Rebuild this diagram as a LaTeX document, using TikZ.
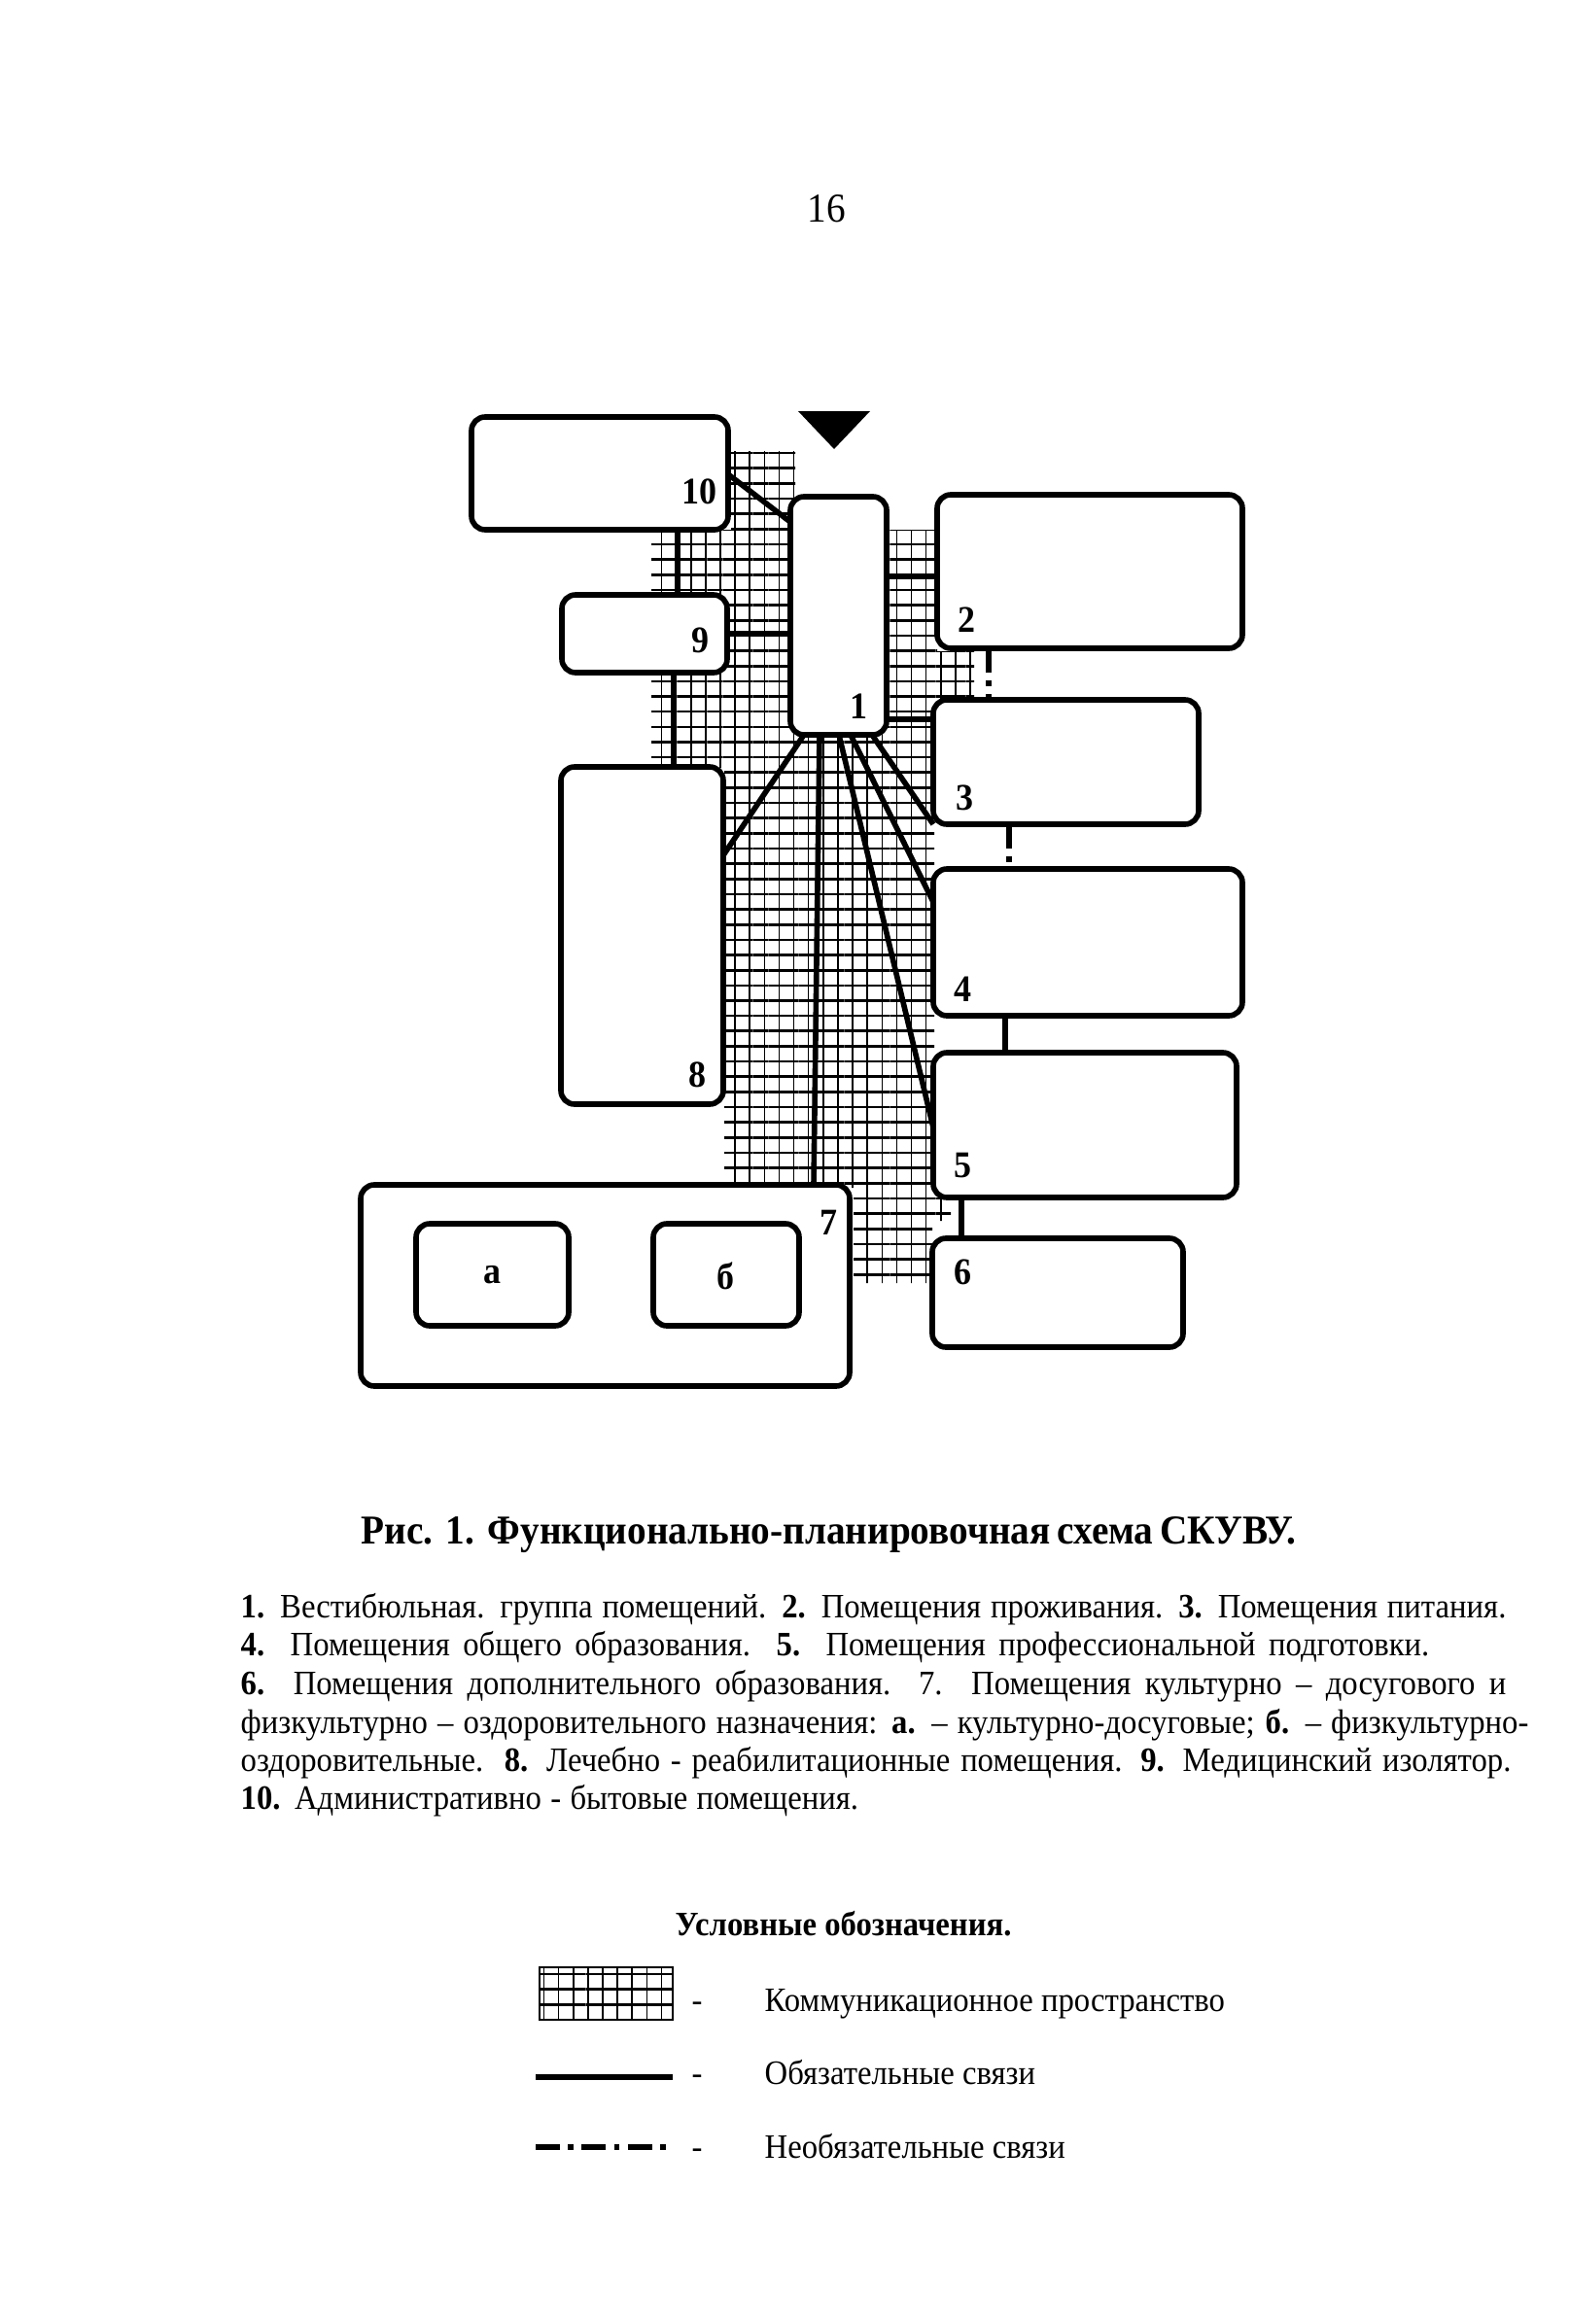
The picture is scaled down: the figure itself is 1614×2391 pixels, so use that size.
\documentclass[tikz,border=0pt]{standalone}
\usepackage{fontspec}
\setmainfont{Liberation Serif}[FakeStretch=0.93]
\usetikzlibrary{patterns.meta, calc, fit}

\begin{document}
\begin{tikzpicture}[x=0.01cm, y=-0.01cm,
    room/.style={draw, line width=1.6pt, rounded corners=4pt, fill=white, inner sep=0pt, outer sep=0pt},
    num/.style={font=\bfseries\fontsize{11}{11}\selectfont},
    link/.style={line width=1.6pt},
    optlink/.style={line width=1.7pt, dash pattern=on 7pt off 2.5pt on 1.5pt off 2.5pt},
    hall/.style={pattern={Lines[angle=0, distance=4.45pt, line width=0.75pt]},
        postaction={pattern={Lines[angle=90, distance=4.3pt, line width=0.45pt]}}},
    leg/.style={anchor=base west, inner sep=0pt, font=\fontsize{10}{12}\selectfont}]
    \useasboundingbox (0,0) rectangle (1614,2391);
    % Номер страницы
    \node[font=\fontsize{12}{12}\selectfont] (page) at (850,215) {16};
    % Коммуникационное пространство
    \path[hall] (752,464) -- (818,464) -- (818,545) -- (964,545) -- (964,670) -- (1002,670)
        -- (1002,720) -- (961,720) -- (961,1232) -- (978,1232) -- (978,1256) -- (959,1256)
        -- (959,1320) -- (878,1320) -- (878,1222) -- (745,1222) -- (745,790) -- (670,790)
        -- (670,545) -- (752,545) -- cycle;
    % Вход
    \fill (821,423) -- (895,423) -- (858,462) -- cycle;
    % Группы помещений
    \node[room, fit={(485,429) (749,545)}] (b10) {};
    \node[room, fit={(578,612) (748,692)}] (b9) {};
    \node[room, fit={(813,511) (912,756)}] (b1) {};
    \node[room, fit={(964,509) (1278,667)}] (b2) {};
    \node[room, fit={(960,720) (1233,848)}] (b3) {};
    \node[room, fit={(960,894) (1278,1045)}] (b4) {};
    \node[room, fit={(960,1083) (1272,1232)}] (b5) {};
    \node[room, fit={(959,1274) (1217,1386)}] (b6) {};
    \node[room, fit={(371,1219) (874,1426)}] (b7) {};
    \node[room, fit={(428,1259) (585,1364)}] (b7a) {};
    \node[room, fit={(672,1259) (822,1364)}] (b7b) {};
    \node[room, fit={(577,789) (744,1136)}] (b8) {};
    % Номера
    \node[num] (n10) at (719,506) {10};
    \node[num] (n9) at (720,659) {9};
    \node[num] (n1) at (883,727) {1};
    \node[num] (n2) at (994,638) {2};
    \node[num] (n3) at (992,821) {3};
    \node[num] (n4) at (990,1018) {4};
    \node[num] (n5) at (990,1199) {5};
    \node[num] (n6) at (990,1309) {6};
    \node[num] (n7) at (852,1258) {7};
    \node[num] (n8) at (717,1106) {8};
    \node[num] (na) at (506,1312) {а};
    \node[num] (nb) at (746,1313) {б};
    % Обязательные связи
    \coordinate (k109) at (697,0);
    \coordinate (k98) at (693,0);
    \coordinate (k12) at (0,593);
    \coordinate (k13) at (0,740);
    \coordinate (k45) at (1034,0);
    \coordinate (k56) at (989,0);
    \draw[link] ($(b10.north east)+(0,59)$) -- ($(b1.north west)+(0,26)$);
    \draw[link] (b10.south -| k109) -- (b9.north -| k109);
    \draw[link] (b9.east) -- (b1.west |- b9.east);
    \draw[link] (b9.south -| k98) -- (b8.north -| k98);
    \draw[link] (b1.east |- k12) -- (b2.west |- k12);
    \draw[link] (b1.east |- k13) -- (b3.west |- k13);
    \draw[link] ($(b1.south west)+(14,0)$) -- ($(b8.north east)+(0,91)$);
    \draw[link] ($(b1.south west)+(30,0)$) -- ($(b7.north east)+(-37,0)$);
    \draw[link] ($(b1.south west)+(50,0)$) -- ($(b5.north west)+(0,77)$);
    \draw[link] ($(b1.south west)+(62,0)$) -- ($(b4.north west)+(0,34)$);
    \draw[link] ($(b1.south west)+(84,0)$) -- (b3.south west);
    \draw[link] (b4.south -| k45) -- (b5.north -| k45);
    \draw[link] (b5.south -| k56) -- (b6.north -| k56);
    % Необязательные связи
    \coordinate (k23) at (1017,0);
    \coordinate (k34) at (1038,0);
    \draw[optlink] (b2.south -| k23) -- (b3.north -| k23);
    \draw[optlink] (b3.south -| k34) -- (b4.north -| k34);
    % Подпись
    \node[anchor=base west, inner sep=0pt, font=\bfseries\fontsize{12}{14}\selectfont] (cap) at (371,1588)
        {\makebox[9.61cm][s]{Рис.\ \ 1.\ \ Функционально-планировочная схема СКУВУ.}};
    \node[leg] (l1) at (247,1664) {\makebox[13.01cm][s]{\textbf{1.} Вестибюльная. группа помещений. \textbf{2.} Помещения проживания. \textbf{3.} Помещения питания.}};
    \node[leg] (l2) at (247,1703) {\makebox[12.22cm][s]{\textbf{4.} Помещения общего образования.\ \ \textbf{5.} Помещения профессиональной подготовки.}};
    \node[leg] (l3) at (247,1743) {\makebox[13.01cm][s]{\textbf{6.} Помещения дополнительного образования.\ \ 7. Помещения культурно – досугового и}};
    \node[leg] (l4) at (247,1783) {\makebox[13.24cm][s]{физкультурно – оздоровительного назначения: \textbf{а.} – культурно-досуговые; \textbf{б.} – физкультурно-}};
    \node[leg] (l5) at (247,1822) {\makebox[13.06cm][s]{оздоровительные.\ \ \textbf{8.} Лечебно - реабилитационные помещения. \textbf{9.} Медицинский изолятор.}};
    \node[leg] (l6) at (247,1861) {\makebox[6.35cm][s]{\textbf{10.} Административно - бытовые помещения.}};
    % Условные обозначения
    \node[anchor=base west, inner sep=0pt, font=\bfseries\fontsize{10}{12}\selectfont] (legt) at (694,1991) {Условные обозначения.};
    \path[hall, draw, line width=0.8pt] (555,2024) rectangle (692,2078);
    \node[leg, anchor=base] (d1) at (717,2069) {-};
    \node[leg] (t1) at (786,2069) {Коммуникационное пространство};
    \coordinate (s1) at (551,2137);
    \coordinate (s2) at (692,2137);
    \draw[link] (s1) -- (s2);
    \node[leg, anchor=base] (d2) at (717,2144) {-};
    \node[leg] (t2) at (786,2144) {Обязательные связи};
    \coordinate (o1) at (551,2209);
    \coordinate (o2) at (692,2209);
    \draw[optlink] (o1) -- (o2);
    \node[leg, anchor=base] (d3) at (717,2220) {-};
    \node[leg] (t3) at (786,2220) {Необязательные связи};
\end{tikzpicture}
\end{document}
